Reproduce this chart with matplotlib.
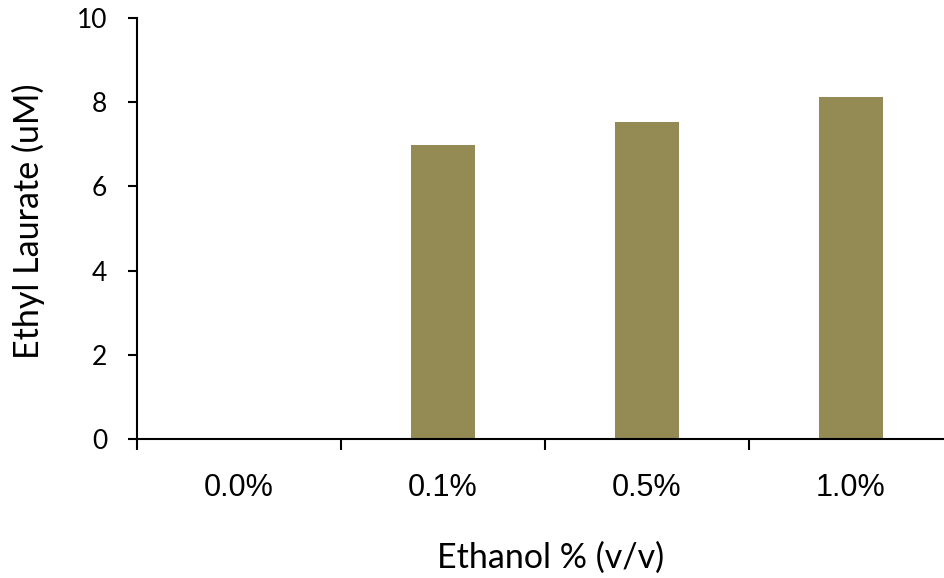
import numpy as np
import matplotlib
matplotlib.use("Agg")
from matplotlib import pyplot as plt

plt.rcParams['font.family'] = ['Liberation Sans', 'DejaVu Sans']

categories = ['0.0%', '0.1%', '0.5%', '1.0%']
values = [0, 6.98, 7.52, 8.12]
yticks = [0, 2, 4, 6, 8, 10]

bar_colour = '#948A54'
calibri_like = ['Lato', 'DejaVu Sans']

fig = plt.figure(figsize=(9.45, 5.78), dpi=100)
# axes runs a little past the right edge, like the original
ax = fig.add_axes([137/945, 139/578, 816/945, 421/578])

x = np.arange(len(categories))
ax.bar(x, values, width=0.31, color=bar_colour)

ax.set_xlim(-0.5, len(categories) - 0.5)
ax.set_ylim(0, 10)

for s in ['top', 'right']:
    ax.spines[s].set_visible(False)
for s in ['left', 'bottom']:
    ax.spines[s].set_linewidth(1.5)

# category boundary ticks (major), labels are placed at the centres
ax.set_xticks(np.arange(-0.5, len(categories), 1.0))
ax.set_xticklabels([])
ax.tick_params(axis='x', which='major', length=8, width=1.5, direction='out')
for xi, lab in zip(x, categories):
    ax.annotate(lab, xy=(xi, 0), xycoords=('data', 'axes fraction'),
                xytext=(0, -49), textcoords='offset pixels',
                ha='center', va='center', fontsize=22, family='Liberation Sans')

ax.set_yticks(yticks)
ax.set_yticklabels([str(v) for v in yticks], family=calibri_like, fontsize=19)
ax.tick_params(axis='y', length=6.5, width=1.5, direction='out', pad=15)

fig.text(28/945, 1 - 221/578, 'Ethyl Laurate (uM)', rotation=90, ha='center', va='center',
         family=calibri_like, fontsize=24.5)
fig.text(551/945, 1 - 558/578, 'Ethanol % (v/v)', ha='center', va='center',
         family=calibri_like, fontsize=24.5)

fig.savefig('out.png', dpi=100)
